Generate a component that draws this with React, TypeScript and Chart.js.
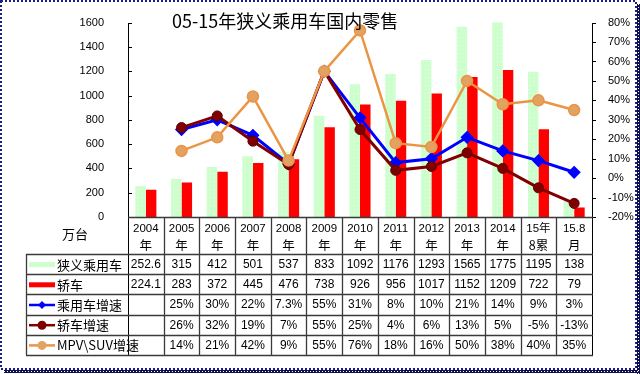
import { useEffect, useRef } from 'react';
import { Chart, registerables } from 'chart.js';
Chart.register(...registerables);

const categories = ['2004', '2005', '2006', '2007', '2008', '2009', '2010', '2011', '2012', '2013', '2014', '15年8累', '15.8'];
const headerLines = [
  ['2004', '年'], ['2005', '年'], ['2006', '年'], ['2007', '年'], ['2008', '年'], ['2009', '年'],
  ['2010', '年'], ['2011', '年'], ['2012', '年'], ['2013', '年'], ['2014', '年'], ['15年', '8累'], ['15.8', '月'],
];
const passengerCars = [252.6, 315, 412, 501, 537, 833, 1092, 1176, 1293, 1565, 1775, 1195, 138];
const sedans = [224.1, 283, 372, 445, 476, 738, 926, 956, 1017, 1152, 1209, 722, 79];
const passengerGrowth = [null, 25, 30, 22, 7.3, 55, 31, 8, 10, 21, 14, 9, 3];
const sedanGrowth = [null, 26, 32, 19, 7, 55, 25, 4, 6, 13, 5, -5, -13];
const mpvSuvGrowth = [null, 14, 21, 42, 9, 55, 76, 18, 16, 50, 38, 40, 35];
const seriesNames = ['狭义乘用车', '轿车', '乘用车增速', '轿车增速', 'MPV\\SUV增速'];
const titleText = '05-15年狭义乘用车国内零售';
const unitText = '万台';

const GREEN = '#ccffcc';
const RED = '#ff0000';
const BLUE = '#0000ff';
const MAROON = '#800000';
const ORANGE = '#eb9444';
const ORANGE_FILL = '#e2a262';

const CJK = '"Noto Sans CJK SC", "Liberation Sans", sans-serif';
const NUM = '"Liberation Sans", "Noto Sans CJK SC", sans-serif';

function makeGreenPattern(): CanvasPattern | string {
  const c = document.createElement('canvas');
  c.width = 4;
  c.height = 4;
  const g = c.getContext('2d');
  if (!g) return GREEN;
  g.fillStyle = GREEN;
  g.fillRect(0, 0, 4, 4);
  g.fillStyle = '#eefaee';
  g.fillRect(1, 1, 1, 1);
  const p = g.createPattern(c, 'repeat');
  return p || GREEN;
}

const fmtPct = (v: number | null) => (v == null ? '' : `${v}%`);

export default function App() {
  const ref = useRef<HTMLCanvasElement | null>(null);

  useEffect(() => {
    document.body.style.margin = '0';
    const canvas = ref.current;
    if (!canvas) return;
    const greenPattern = makeGreenPattern();

    const rows: string[][] = [
      passengerCars.map((v) => String(v)),
      sedans.map((v) => String(v)),
      passengerGrowth.map(fmtPct),
      sedanGrowth.map(fmtPct),
      mpvSuvGrowth.map(fmtPct),
    ];

    const tablePlugin = {
      id: 'tablePlugin',
      afterDraw(chart: any) {
        const ctx: CanvasRenderingContext2D = chart.ctx;
        const area = chart.chartArea;
        const xs = chart.scales.x;
        const yl = chart.scales.y;
        const yr = chart.scales.y1;
        const L = Math.round(area.left);
        const R = Math.round(area.right);
        const B = Math.round(area.bottom);
        const T = Math.round(area.top);
        const headerBottom = B + 37;
        const rowH = 20.2;
        const tableBottom = headerBottom + rowH * 5;
        const tableLeft = 26;
        const n = categories.length;
        const cw = (R - L) / n;

        ctx.save();
        // axis lines
        ctx.strokeStyle = '#000';
        ctx.lineWidth = 1;
        ctx.beginPath();
        ctx.moveTo(L + 0.5, T);
        ctx.lineTo(L + 0.5, tableBottom);
        ctx.moveTo(R + 0.5, T);
        ctx.lineTo(R + 0.5, tableBottom);
        ctx.stroke();
        // ticks
        ctx.beginPath();
        yl.ticks.forEach((t: any) => {
          const y = Math.round(yl.getPixelForValue(t.value)) + 0.5;
          ctx.moveTo(L, y);
          ctx.lineTo(L + 4, y);
        });
        yr.ticks.forEach((t: any) => {
          const y = Math.round(yr.getPixelForValue(t.value)) + 0.5;
          ctx.moveTo(R, y);
          ctx.lineTo(R + 4, y);
        });
        ctx.stroke();

        // table grid
        ctx.strokeStyle = '#3a3a3a';
        ctx.lineWidth = 1.3;
        ctx.beginPath();
        ctx.moveTo(L, B + 0.5);
        ctx.lineTo(R + 1, B + 0.5);
        for (let r = 0; r <= 5; r++) {
          const y = Math.round(headerBottom + r * rowH) + 0.5;
          ctx.moveTo(tableLeft, y);
          ctx.lineTo(R + 1, y);
        }
        for (let i = 1; i < n; i++) {
          const x = Math.round(L + i * cw) + 0.5;
          ctx.moveTo(x, B);
          ctx.lineTo(x, tableBottom);
        }
        ctx.moveTo(tableLeft + 0.5, headerBottom);
        ctx.lineTo(tableLeft + 0.5, tableBottom);
        ctx.stroke();

        // header
        ctx.fillStyle = '#000';
        ctx.textAlign = 'center';
        ctx.textBaseline = 'middle';
        headerLines.forEach((lines, i) => {
          const cx = xs.getPixelForValue(i);
          ctx.font = `11.5px ${NUM}`;
          ctx.fillText(lines[0], cx, B + 12);
          ctx.font = `12.5px ${CJK}`;
          ctx.fillText(lines[1], cx, B + 28);
        });
        ctx.font = `13px ${CJK}`;
        ctx.fillText(unitText, 75, B + 17);

        // rows
        rows.forEach((row, r) => {
          const cy = headerBottom + r * rowH + rowH / 2 + 0.5;
          ctx.font = `12px ${NUM}`;
          row.forEach((txt, i) => {
            if (!txt) return;
            ctx.fillText(txt, xs.getPixelForValue(i), cy);
          });
          const sx0 = 29, sx1 = 55, mx = 42;
          ctx.save();
          if (r < 2) {
            ctx.strokeStyle = r === 0 ? GREEN : RED;
            ctx.lineWidth = 5;
            ctx.beginPath();
            ctx.moveTo(sx0, cy);
            ctx.lineTo(sx1, cy);
            ctx.stroke();
          } else {
            const col = r === 2 ? BLUE : r === 3 ? MAROON : ORANGE;
            ctx.strokeStyle = col;
            ctx.lineWidth = 2.5;
            ctx.beginPath();
            ctx.moveTo(sx0, cy);
            ctx.lineTo(sx1, cy);
            ctx.stroke();
            ctx.fillStyle = r === 4 ? ORANGE_FILL : col;
            ctx.beginPath();
            if (r === 2) {
              ctx.moveTo(mx, cy - 4);
              ctx.lineTo(mx + 4, cy);
              ctx.lineTo(mx, cy + 4);
              ctx.lineTo(mx - 4, cy);
              ctx.closePath();
            } else {
              ctx.arc(mx, cy, 4.5, 0, Math.PI * 2);
            }
            ctx.fill();
          }
          ctx.restore();
          ctx.fillStyle = '#000';
          ctx.textAlign = 'left';
          ctx.font = `13px ${CJK}`;
          ctx.fillText(seriesNames[r], 57, cy);
          ctx.textAlign = 'center';
        });

        // title
        ctx.textAlign = 'left';
        ctx.font = `18px ${CJK}`;
        ctx.fillText(titleText, 172, 21);

        // outer border
        ctx.strokeStyle = '#1c1c8a';
        ctx.lineWidth = 2;
        ctx.setLineDash([2, 2]);
        ctx.strokeRect(1, 1, 635, 368);
        ctx.lineWidth = 3;
        ctx.strokeStyle = '#10104a';
        ctx.setLineDash([]);
        ctx.beginPath();
        ctx.moveTo(638.5, 4);
        ctx.lineTo(638.5, 374);
        ctx.moveTo(4, 371.5);
        ctx.lineTo(640, 371.5);
        ctx.stroke();
        ctx.strokeStyle = '#ffffff';
        ctx.lineWidth = 1;
        ctx.setLineDash([1, 2]);
        ctx.beginPath();
        ctx.moveTo(638.5, 4);
        ctx.lineTo(638.5, 374);
        ctx.moveTo(4, 371.5);
        ctx.lineTo(640, 371.5);
        ctx.stroke();
        ctx.restore();
      },
    };

    const chart = new Chart(canvas, {
      type: 'bar',
      data: {
        labels: categories,
        datasets: [
          {
            type: 'line',
            label: seriesNames[4],
            data: mpvSuvGrowth,
            yAxisID: 'y1',
            borderColor: ORANGE,
            borderWidth: 2.5,
            pointRadius: 5.5,
            pointBackgroundColor: ORANGE_FILL,
            pointBorderColor: ORANGE,
            pointBorderWidth: 1.5,
            tension: 0,
            order: 1,
          },
          {
            type: 'line',
            label: seriesNames[3],
            data: sedanGrowth,
            yAxisID: 'y1',
            borderColor: MAROON,
            borderWidth: 3,
            pointRadius: 5,
            pointBackgroundColor: MAROON,
            pointBorderColor: '#5a0000',
            pointBorderWidth: 1,
            tension: 0,
            order: 2,
          },
          {
            type: 'line',
            label: seriesNames[2],
            data: passengerGrowth,
            yAxisID: 'y1',
            borderColor: BLUE,
            borderWidth: 3,
            pointStyle: 'rectRot',
            pointRadius: 4.5,
            pointBackgroundColor: BLUE,
            pointBorderColor: BLUE,
            tension: 0,
            order: 3,
          },
          {
            type: 'bar',
            label: seriesNames[0],
            data: passengerCars,
            yAxisID: 'y',
            backgroundColor: greenPattern as any,
            categoryPercentage: 0.59,
            barPercentage: 1,
            order: 4,
          },
          {
            type: 'bar',
            label: seriesNames[1],
            data: sedans,
            yAxisID: 'y',
            backgroundColor: RED,
            categoryPercentage: 0.59,
            barPercentage: 1,
            order: 5,
          },
        ] as any,
      },
      options: {
        responsive: false,
        animation: false,
        layout: { padding: { left: 0, right: 0, top: 15, bottom: 157 } },
        plugins: { legend: { display: false }, tooltip: { enabled: false }, title: { display: false } },
        scales: {
          x: { display: false, offset: true, grid: { display: false } },
          y: {
            position: 'left',
            min: 0,
            max: 1600,
            ticks: { stepSize: 200, padding: 16, color: '#000', font: { family: NUM, size: 11 }, callback: (v: any) => String(v) },
            grid: { display: false },
            border: { display: false },
            afterFit: (s: any) => { s.width = 128; },
          },
          y1: {
            position: 'right',
            min: -20,
            max: 80,
            ticks: { stepSize: 10, padding: 8, color: '#000', font: { family: NUM, size: 11 }, callback: (v: any) => `${v}%` },
            grid: { display: false },
            border: { display: false },
            afterFit: (s: any) => { s.width = 48; },
          },
        },
      } as any,
      plugins: [tablePlugin],
    });
    return () => chart.destroy();
  }, []);

  return (
    <div style={{ width: 640, height: 374 }}>
      <canvas ref={ref} width={640} height={374} style={{ display: 'block' }} />
    </div>
  );
}
